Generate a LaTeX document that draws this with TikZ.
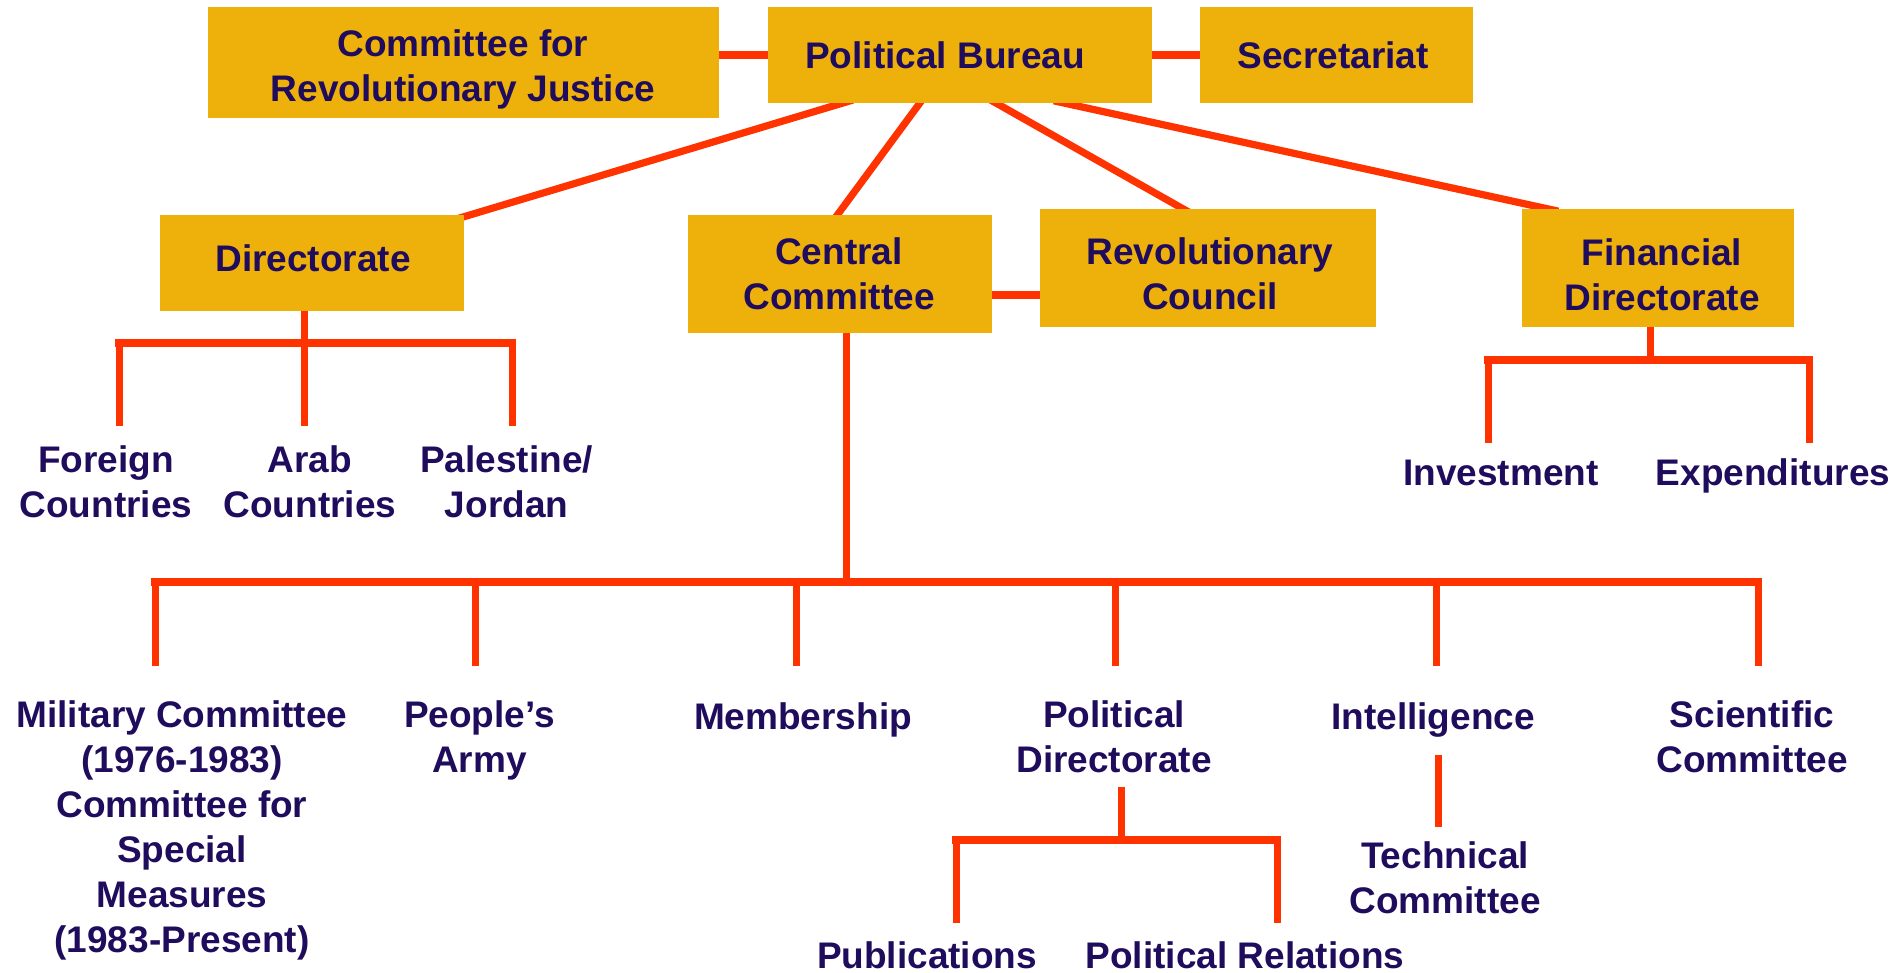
\documentclass[tikz,border=0pt]{standalone}
\usepackage{fontspec}
\setmainfont{Liberation Sans}
\usetikzlibrary{backgrounds,calc}
\definecolor{boxfill}{HTML}{EEB10C}
\definecolor{linered}{HTML}{FF3300}
\definecolor{txt}{HTML}{200C5C}
\begin{document}
\begin{tikzpicture}[x=0.5pt,y=-0.5pt,
  box/.style 2 args={fill=boxfill,draw=none,inner sep=0pt,minimum width=#1*0.5pt,minimum height=#2*0.5pt},
  lbl/.style={text=txt,font=\fontsize{18.5pt}{22.5pt}\selectfont\bfseries,align=center,inner sep=0pt,
    execute at begin node=\strut,execute at end node=\strut},
  lblb/.style={text=txt,font=\fontsize{18.5pt}{22.5pt}\selectfont\bfseries,inner sep=0pt,anchor=base},
  lnk/.style={draw=linered,line width=3.6pt,shorten <=-6pt,shorten >=-6pt},
  hl/.style={draw=linered,line width=3.6pt,shorten <=-3pt,shorten >=-3pt},
  vl/.style={draw=linered,line width=3.5pt},
  bar/.style={draw=linered,line width=4pt,line cap=rect}]
\useasboundingbox (0,0) rectangle (1897,973);

% boxes
\node[box={511}{111}] (crj) at (463.5,62.5) {};
\node[box={384}{96}]  (pb)  at (960,55) {};
\node[box={273}{96}]  (sec) at (1336.5,55) {};
\node[box={304}{96}]  (dir) at (312,263) {};
\node[box={304}{118}] (cc)  at (840,274) {};
\node[box={336}{118}] (rc)  at (1208,268) {};
\node[box={272}{118}] (fd)  at (1658,268) {};

% box texts
\node[lbl] (crjt) at (463,72) {Committee for\\Revolutionary Justice};
\node[lbl] (pbt)  at (945,59.25) {Political Bureau};
\node[lbl] (sect) at (1333,59.25) {Secretariat};
\node[lbl] (dirt) at (313,262.75) {Directorate};
\node[lbl] (cct)  at (839,280.5) {Central\\Committee};
\node[lbl] (rct)  at (1210,280.5) {Revolutionary\\Council};
\node[lbl] (fdt)  at (1662,281) {Financial\\Directorate};

% plain labels
\node[lbl] (fc)   at (106,488) {Foreign\\Countries};
\node[lbl] (ac)   at (310,488) {Arab\\Countries};
\node[lbl] (pal)  at (506.5,488) {Palestine/\\Jordan};
\node[lbl] (inv)  at (1501,476.25) {Investment};
\node[lbl] (expd) at (1773,476.25) {Expenditures};
\node[lbl] (mil)  at (182,833.25) {Military Committee\\(1976-1983)\\Committee for\\Special\\Measures\\(1983-Present)};
\node[lbl] (pa)   at (479.5,743.25) {People’s\\Army};
\node[lbl] (mem)  at (803,720.25) {Membership};
\node[lbl] (pd)   at (1114,743.5) {Political\\Directorate};
\node[lbl] (intl) at (1433,720.25) {Intelligence};
\node[lbl] (sci)  at (1752,743.5) {Scientific\\Committee};
\node[lbl] (tech) at (1445,884.25) {Technical\\Committee};
\node[lblb] (pub) at (927,968) {Publications};
\node[lblb] (prl) at (1245,968) {Political Relations};

\begin{scope}[on background layer]
  % top row connectors
  \draw[hl] (crj.east |- pb.west) -- (pb.west);
  \draw[hl] (pb.east) -- (sec.west);
  \draw[hl] ($(cc.east)+(0,21)$) coordinate (ccr) -- (ccr -| rc.west);
  % diagonals from Political Bureau
  \draw[lnk] ($(pb.south west)+(74,0)$)  -- ($(dir.north east)+(0,2)$);
  \draw[lnk] ($(pb.south west)+(152,0)$) -- ($(cc.north west)+(150,0)$);
  \draw[lnk] ($(pb.south west)+(229,0)$) -- ($(rc.north west)+(143,0)$);
  \draw[lnk] ($(pb.south west)+(298,0)$) -- ($(fd.north west)+(25,0)$);
  % Directorate tree
  \coordinate (dj) at (304,343);
  \draw[vl,shorten <=-3pt] (dj |- dir.south) -- (dj);
  \draw[bar] (119,343) -- (512,343);
  \foreach \x in {119,304,512} \draw[vl] (\x,343) -- (\x,426);
  % Central Committee tree
  \coordinate (cj) at (846,582);
  \draw[vl,shorten <=-3pt] (cj |- cc.south) -- (cj);
  \draw[bar] (155,582) -- (1758,582);
  \foreach \x in {155,475,796,1115,1436,1758} \draw[vl] (\x,582) -- (\x,666);
  % Financial Directorate tree
  \coordinate (fj) at (1650,360);
  \draw[vl,shorten <=-3pt] (fj |- fd.south) -- (fj);
  \draw[bar] (1488,360) -- (1809,360);
  \foreach \x in {1488,1809} \draw[vl] (\x,360) -- (\x,443);
  % Political Directorate tree
  \coordinate (pdj) at (1121,840);
  \draw[vl] (1121,787) -- (pdj);
  \draw[bar] (956,840) -- (1277,840);
  \foreach \x in {956,1277} \draw[vl] (\x,840) -- (\x,923);
  % Intelligence - Technical Committee
  \coordinate (itop) at (1438,755);
  \coordinate (ibot) at (1438,827);
  \draw[vl] (itop) -- (ibot);
\end{scope}
\end{tikzpicture}
\end{document}
